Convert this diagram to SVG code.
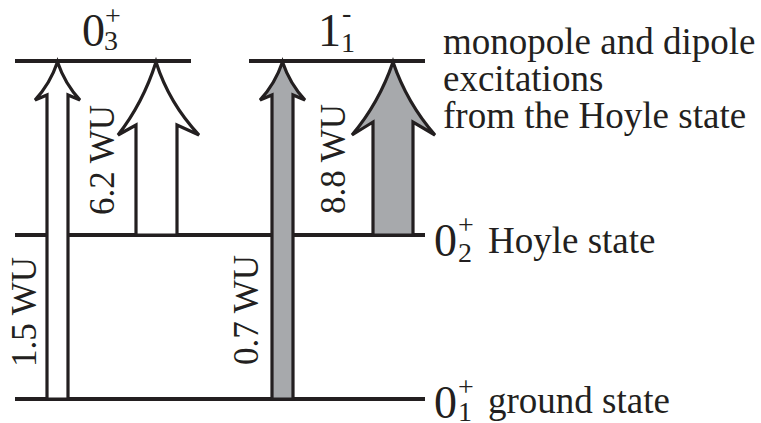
<svg xmlns="http://www.w3.org/2000/svg" width="761" height="423" viewBox="0 0 761 423">
<style>
.lvl{stroke:#231f20;stroke-width:4;fill:none}
.arw{stroke:#231f20;stroke-width:3.2;stroke-linejoin:miter}
.w{fill:#ffffff}
.g{fill:#a7a9ac}
.t{font-size:37px}
.big{font-size:46px}
.s{font-size:28px}
.r{font-size:35px}
</style>
<rect width="761" height="423" fill="#ffffff"/>
<g id="levels">
<line class="lvl" x1="15" y1="61" x2="191" y2="61"/>
<line class="lvl" x1="249" y1="61" x2="425" y2="61"/>
<line class="lvl" x1="15" y1="235" x2="425" y2="235"/>
<line class="lvl" x1="15" y1="399" x2="425" y2="399"/>
</g>
<g id="connectors">
<path class="arw w" d="M47,399 L47,95 L35,100 Q50,84 57.5,62 Q65,84 80,100 L68,95 L68,399 Z"/>
<path class="arw w" d="M136,235 L136,125 L118,135 Q143,103 156,62 Q169,103 199,135 L177,125 L177,235 Z"/>
<path class="arw g" d="M272,399 L272,95 L260,100 Q275,84 282.5,62 Q290,84 305,100 L293,95 L293,399 Z"/>
<path class="arw g" d="M373,235 L373,122 L352,135 Q379,103 393,62 Q407,103 435,135 L413,122 L413,235 Z"/>
</g>
<g font-family="'Liberation Serif', 'Times New Roman', serif" fill="#231f20">
<g id="label-03">
<text class="big" x="82" y="46">0</text>
<text class="s" x="104" y="50">3</text>
<text class="s" x="105" y="25">+</text>
</g>
<g id="label-11">
<text class="big" x="318" y="46">1</text>
<text class="s" x="341" y="52">1</text>
<text class="s" x="342" y="22">-</text>
</g>
<g id="label-02">
<text class="big" x="434" y="256">0</text>
<text class="s" x="458" y="262">2</text>
<text class="s" x="458" y="234">+</text>
<text class="t" x="488" y="253">Hoyle state</text>
</g>
<g id="label-01">
<text class="big" x="434" y="418">0</text>
<text class="s" x="458" y="421">1</text>
<text class="s" x="458" y="396">+</text>
<text class="t" x="488" y="413">ground state</text>
</g>
<g id="caption">
<text class="t" x="443" y="54">monopole and dipole</text>
<text class="t" x="443" y="91">excitations</text>
<text class="t" x="443" y="128">from the Hoyle state</text>
</g>
<g id="rates">
<text class="r" text-anchor="middle" transform="translate(36,312) rotate(-90)">1.5 WU</text>
<text class="r" text-anchor="middle" transform="translate(258,310) rotate(-90)">0.7 WU</text>
<text class="r" text-anchor="middle" transform="translate(114,160) rotate(-90)">6.2 WU</text>
<text class="r" text-anchor="middle" transform="translate(345,159) rotate(-90)">8.8 WU</text>
</g>
</g>
</svg>
